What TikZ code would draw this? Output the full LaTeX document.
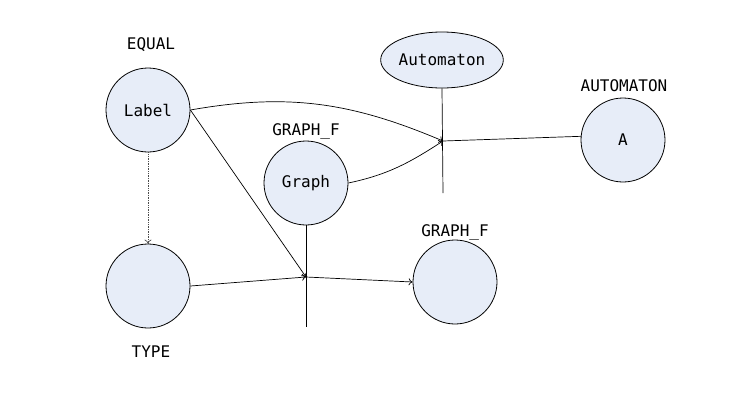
\documentclass[tikz,border=0pt]{standalone}
\usepackage{fontspec}
\setmonofont{DejaVu Sans Mono}
\usetikzlibrary{arrows.meta,shapes.geometric}
\definecolor{nodefill}{RGB}{231,237,248}
\begin{document}
\begin{tikzpicture}[x=1pt,y=-1pt,
  every node/.style={font=\ttfamily\fontsize{16}{18}\selectfont},
  circ/.style={circle,draw,fill=nodefill,minimum size=84pt,inner sep=0pt,line width=0.8pt},
  ell/.style={ellipse,draw,fill=nodefill,minimum width=120pt,minimum height=56pt,inner sep=0pt,line width=0.8pt},
  lbl/.style={inner sep=0pt},
  conn/.style={line width=0.7pt},
  arr/.style={conn,-{To[length=4pt,width=7pt]}}]
\useasboundingbox (0,0) rectangle (750,416);
\node[circ] (label) at (148,110) {Label};
\node[lbl] (equal) at (151,45) {EQUAL};
\node[circ] (graph) at (306,183) {Graph};
\node[lbl] (gf1) at (306,131) {GRAPH\_F};
\node[ell] (aut) at (442,60) {Automaton};
\node[circ] (A) at (623,140) {A};
\node[lbl] (autl) at (624,86) {AUTOMATON};
\node[circ] (type) at (148,286) {};
\node[lbl] (typel) at (151,352) {TYPE};
\node[circ] (gf2) at (455,282) {};
\node[lbl] (gf2l) at (455,232) {GRAPH\_F};
\coordinate (j1) at (443,141);
\coordinate (j2) at (306,277);
\coordinate (j1b) at (443,193);
\coordinate (j2b) at (306,327);
% junction 1
\draw[conn] (aut.south) -- (j1b);
\draw[arr] (label.east) to[out=10,in=157] (j1);
\draw[arr] (graph.east) to[out=12,in=213] (j1);
\draw[conn] (j1) -- (A.175);
% junction 2
\draw[conn] (graph.south) -- (j2b);
\draw[arr] (label.east) -- (j2);
\draw[arr] (type.east) -- (j2);
\draw[arr] (j2) -- (gf2.west);
% dotted
\draw[conn,densely dotted,black!70,-{To[length=4pt,width=7pt]}] (label.south) -- (type.north);
\end{tikzpicture}
\end{document}
